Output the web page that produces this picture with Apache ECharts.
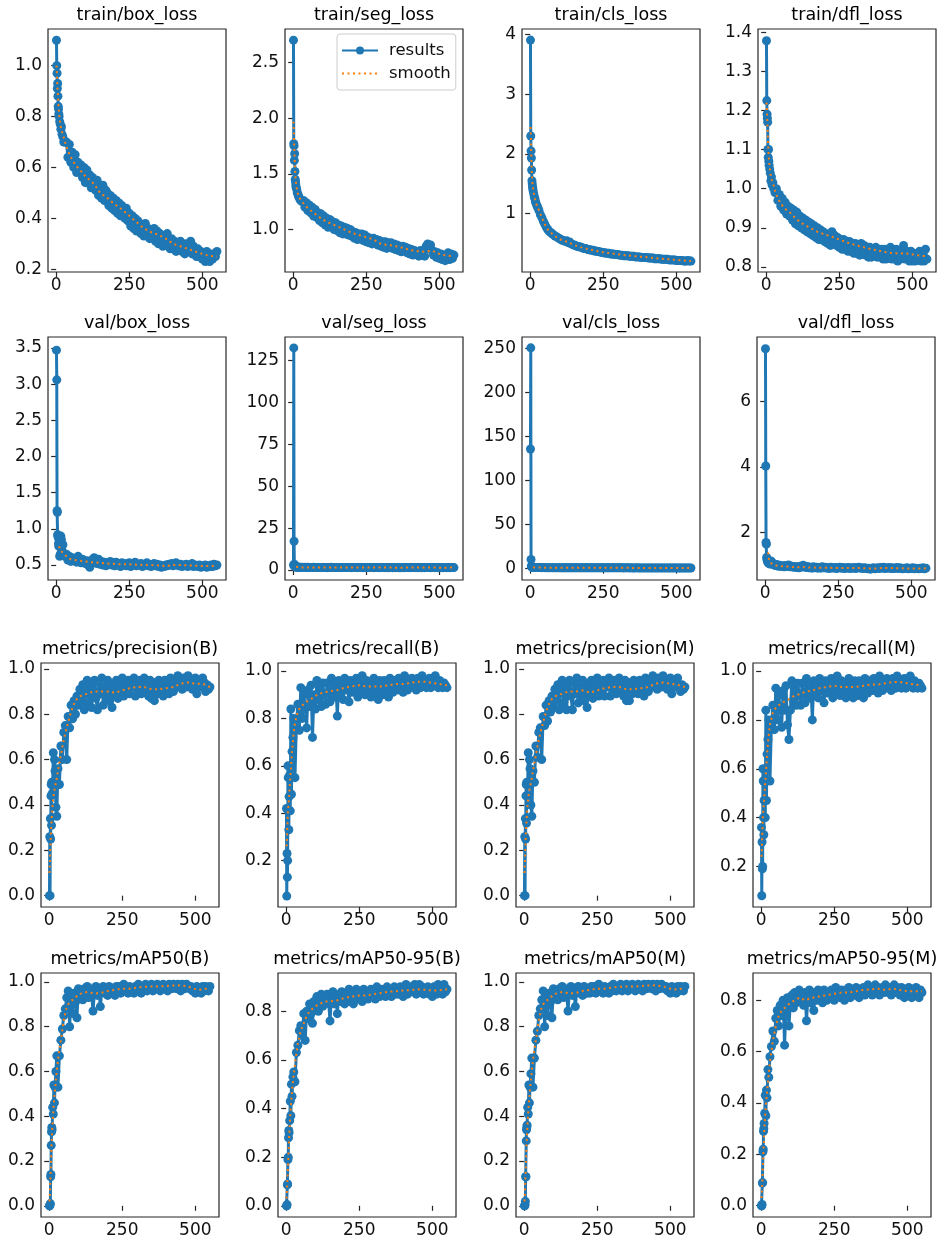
<!DOCTYPE html>
<html>
<head>
<meta charset="utf-8">
<script src="https://cdn.jsdelivr.net/npm/echarts@6/dist/echarts.min.js"></script>
<style>
  html, body { margin: 0; padding: 0; background: #fff; }
  #chart { width: 944px; height: 1244px; }
</style>
</head>
<body>
<div id="chart"></div>
<script>
// epochs sampled for the raw "results" curves
const epochs = [1,2,3,4,5,6,7,8,9,10,12,14,16,18,20,23,26,30,
  35,40,45,50,55,60,65,70,75,80, 85,90,95,100,105,110,115,120,125,130,
  135,140,145,150,155,160,165,170,175,180, 185,190,195,200,205,210,215,220,225,230,
  235,240,245,250,255,260,265,270,275,280, 285,290,295,300,305,310,315,320,325,330,
  335,340,345,350,355,360,365,370,375,380, 385,390,395,400,405,410,415,420,425,430,
  435,440,445,450,455,460,465,470,475,480, 485,490,495,500,505,510,515,520,525,530,
  535,540,545,550];
// epochs sampled for the smoothed curves
const smoothEpochs = [1,2,3,4,5,6,8,10,13,16,20,25,30,40,50,60,70,80,90,100,115,130,150,175,200,
  225,250,275,300,325,350,375,400,425,450,475,500,525,550];

const xTicks = [0, 250, 500];

const trainBoxLoss = [1.10,1.00,0.97,0.91,0.93,0.88,0.84,0.83,0.81,0.80,0.78,0.77,0.75,0.76,0.73,0.72,0.70,0.70,
  0.70,0.64,0.69,0.62,0.66,0.60,0.65,0.58,0.62,0.60, 0.61,0.56,0.60,0.54,0.59,0.55,0.57,0.52,0.56,0.55,
  0.51,0.55,0.49,0.52,0.48,0.53,0.47,0.51,0.50,0.45, 0.49,0.44,0.48,0.43,0.47,0.42,0.46,0.41,0.45,0.43,
  0.40,0.44,0.39,0.42,0.37,0.41,0.36,0.40,0.35,0.39, 0.38,0.34,0.37,0.33,0.38,0.34,0.36,0.32,0.35,0.33,
  0.36,0.31,0.35,0.30,0.34,0.32,0.29,0.33,0.30,0.34, 0.31,0.28,0.32,0.29,0.31,0.27,0.30,0.28,0.31,0.27,
  0.29,0.26,0.30,0.27,0.29,0.31,0.26,0.29,0.27,0.25, 0.28,0.25,0.27,0.24,0.26,0.23,0.27,0.25,0.23,0.26,
  0.24,0.26,0.25,0.27];
const trainBoxSmooth = [1.00,0.98,0.95,0.92,0.90,0.88,0.84,0.81,0.78,0.76,0.74,0.72,0.70,0.665,0.64,0.62,0.605,0.59,0.58,0.565,
  0.55,0.535,0.50,0.48,0.455,0.435,0.41,0.385,0.36,0.345,0.335,0.32,0.30,0.29,0.28,0.27,0.26,0.252,0.25];

const trainSegLoss = [2.70,1.77,1.75,1.62,1.68,1.52,1.45,1.43,1.40,1.38,1.36,1.33,1.32,1.30,1.29,1.27,1.26,1.25,
  1.26,1.20,1.24,1.17,1.22,1.15,1.20,1.12,1.18,1.11, 1.15,1.08,1.14,1.06,1.12,1.04,1.10,1.02,1.09,1.03,
  1.07,1.00,1.06,0.99,1.04,0.97,1.03,0.96,1.02,0.96, 1.01,0.95,1.00,0.94,0.98,0.92,0.97,0.91,0.96,0.92,
  0.96,0.90,0.95,0.89,0.93,0.88,0.92,0.87,0.92,0.88, 0.91,0.86,0.90,0.85,0.89,0.84,0.89,0.83,0.88,0.85,
  0.88,0.83,0.87,0.82,0.86,0.81,0.85,0.80,0.85,0.82, 0.84,0.79,0.83,0.78,0.82,0.77,0.81,0.78,0.80,0.76,
  0.81,0.77,0.80,0.76,0.85,0.87,0.83,0.86,0.81,0.77, 0.80,0.75,0.79,0.74,0.78,0.73,0.77,0.72,0.76,0.79,
  0.73,0.78,0.74,0.77];
const trainSegSmooth = [1.97,1.90,1.80,1.70,1.62,1.55,1.46,1.41,1.36,1.32,1.29,1.27,1.25,1.22,1.19,1.17,1.15,1.13,1.11,1.09,
  1.07,1.05,1.03,1.00,0.97,0.95,0.93,0.91,0.87,0.86,0.85,0.835,0.815,0.805,0.80,0.81,0.78,0.765,0.76];

const trainClsLoss = [3.91,2.30,2.05,1.93,1.73,1.55,1.50,1.45,1.42,1.38,1.33,1.28,1.25,1.20,1.17,1.13,1.10,1.05,
  0.98,0.93,0.87,0.82,0.77,0.73,0.70,0.68,0.66,0.64, 0.62,0.61,0.59,0.58,0.56,0.55,0.54,0.53,0.54,0.51,
  0.52,0.49,0.48,0.47,0.46,0.45,0.44,0.44,0.43,0.42, 0.41,0.41,0.40,0.39,0.39,0.38,0.38,0.37,0.37,0.36,
  0.36,0.35,0.35,0.34,0.34,0.33,0.33,0.33,0.32,0.32, 0.32,0.31,0.31,0.31,0.30,0.30,0.30,0.29,0.29,0.29,
  0.29,0.28,0.28,0.28,0.28,0.27,0.27,0.27,0.27,0.26, 0.26,0.26,0.26,0.26,0.25,0.25,0.25,0.25,0.24,0.24,
  0.24,0.24,0.24,0.23,0.23,0.23,0.23,0.23,0.22,0.22, 0.22,0.22,0.22,0.21,0.21,0.21,0.21,0.21,0.20,0.20,
  0.20,0.21,0.20,0.20];
const trainClsSmooth = [2.45,2.35,2.15,1.95,1.78,1.65,1.50,1.42,1.32,1.25,1.17,1.11,1.05,0.93,0.82,0.73,0.68,0.64,0.60,0.57,
  0.54,0.52,0.47,0.43,0.40,0.37,0.35,0.33,0.315,0.30,0.285,0.275,0.265,0.25,0.24,0.23,0.22,0.21,0.20];

const trainDflLoss = [1.378,1.225,1.19,1.18,1.17,1.10,1.08,1.10,1.07,1.06,1.05,1.04,1.02,1.03,1.01,1.015,1.00,0.99,
  1.00,0.97,0.985,0.955,0.975,0.945,0.965,0.935,0.955,0.93, 0.95,0.92,0.945,0.91,0.94,0.905,0.93,0.90,0.925,0.895,
  0.92,0.89,0.915,0.885,0.91,0.88,0.905,0.875,0.90,0.87, 0.895,0.87,0.89,0.865,0.885,0.86,0.88,0.855,0.89,0.865,
  0.88,0.855,0.875,0.85,0.87,0.845,0.87,0.845,0.865,0.84, 0.865,0.84,0.86,0.835,0.86,0.835,0.855,0.83,0.86,0.835,
  0.855,0.83,0.85,0.825,0.85,0.825,0.845,0.83,0.85,0.825, 0.845,0.825,0.845,0.82,0.845,0.82,0.84,0.825,0.85,0.82,
  0.84,0.82,0.845,0.815,0.84,0.82,0.835,0.855,0.82,0.84, 0.835,0.815,0.84,0.815,0.835,0.815,0.83,0.82,0.84,0.815,
  0.835,0.815,0.845,0.82];
const trainDflSmooth = [1.22,1.21,1.19,1.17,1.15,1.12,1.09,1.07,1.05,1.03,1.02,1.01,0.995,0.975,0.962,0.952,0.945,0.94,0.932,0.925,
  0.915,0.908,0.90,0.89,0.883,0.877,0.87,0.863,0.857,0.852,0.847,0.843,0.839,0.836,0.834,0.835,0.832,0.829,0.827];

const valBoxLoss = [3.47,3.06,1.25,1.23,0.92,0.90,0.88,0.80,0.76,0.78,0.62,0.65,0.90,0.85,0.70,0.78,0.66,0.62,
  0.65,0.57,0.62,0.55,0.60,0.56,0.58,0.54,0.62,0.56, 0.53,0.58,0.55,0.52,0.56,0.50,0.47,0.53,0.58,0.60,
  0.56,0.52,0.58,0.51,0.55,0.50,0.54,0.49,0.53,0.51, 0.55,0.50,0.53,0.49,0.54,0.51,0.52,0.48,0.53,0.50,
  0.52,0.49,0.51,0.53,0.48,0.52,0.50,0.54,0.49,0.51, 0.50,0.52,0.48,0.51,0.50,0.53,0.49,0.51,0.48,0.50,
  0.52,0.49,0.51,0.48,0.50,0.47,0.49,0.48,0.50,0.49, 0.51,0.50,0.52,0.49,0.51,0.53,0.50,0.49,0.51,0.48,
  0.50,0.49,0.51,0.48,0.50,0.49,0.52,0.48,0.50,0.49, 0.48,0.50,0.47,0.49,0.48,0.50,0.47,0.49,0.48,0.50,
  0.48,0.51,0.49,0.50];
// the smoothed val curves are not visible on the first spike, so they start later
const valBoxSmooth = [null,null,null,null,null,null,null,0.76,0.72,0.70,0.68,0.66,0.64,0.60,0.58,0.57,0.565,0.56,0.555,0.55,
  0.54,0.54,0.53,0.52,0.515,0.51,0.51,0.505,0.50,0.50,0.495,0.485,0.50,0.50,0.495,0.49,0.485,0.485,0.49];

const valSegLoss = [3.0,132.6,17.2,3.5,2.6,2.2,2.0,1.9,1.8,1.85,1.7,1.75,1.6,1.7,1.65,1.6,1.55,1.6,
  1.55,1.60,1.50,1.58,1.52,1.48,1.55,1.62,1.50,1.53, 1.48,1.52,1.45,1.50,1.55,1.47,1.42,1.50,1.53,1.58,
  1.50,1.46,1.52,1.44,1.49,1.45,1.51,1.43,1.48,1.46, 1.50,1.44,1.47,1.42,1.49,1.45,1.46,1.41,1.48,1.44,
  1.45,1.42,1.47,1.50,1.43,1.46,1.44,1.49,1.42,1.45, 1.44,1.47,1.41,1.45,1.43,1.48,1.42,1.45,1.40,1.44,
  1.46,1.42,1.45,1.40,1.43,1.39,1.42,1.41,1.44,1.42, 1.45,1.43,1.47,1.42,1.46,1.49,1.44,1.42,1.46,1.41,
  1.44,1.42,1.46,1.41,1.44,1.43,1.48,1.42,1.45,1.43, 1.41,1.44,1.40,1.43,1.42,1.45,1.40,1.43,1.41,1.44,
  1.42,1.46,1.43,1.44];
const valSegSmooth = [null,null,null,null,null,null,null,2.0,1.7,1.65,1.62,1.58,1.57,1.56,1.54,1.53,1.53,1.52,1.50,1.50,
  1.49,1.52,1.48,1.47,1.46,1.45,1.46,1.45,1.45,1.44,1.42,1.42,1.45,1.45,1.44,1.44,1.42,1.42,1.44];

const valClsLoss = [136,251,10.5,3.0,2.0,1.8,1.6,1.5,1.45,1.4,1.35,1.3,1.32,1.28,1.25,1.27,1.22,1.2,
  1.18,1.15,1.17,1.12,1.14,1.10,1.13,1.09,1.11,1.08, 1.10,1.07,1.09,1.05,1.08,1.04,1.06,1.03,1.07,1.05,
  1.03,1.06,1.02,1.04,1.01,1.03,1.00,1.02,0.99,1.01, 1.00,0.98,1.01,0.97,0.99,0.96,0.98,0.95,0.97,0.96,
  0.95,0.97,0.94,0.96,0.93,0.95,0.92,0.94,0.93,0.91, 0.93,0.90,0.92,0.91,0.89,0.92,0.90,0.88,0.91,0.89,
  0.90,0.88,0.89,0.87,0.88,0.86,0.89,0.87,0.86,0.88, 0.86,0.87,0.85,0.88,0.86,0.84,0.87,0.85,0.86,0.84,
  0.85,0.83,0.86,0.84,0.85,0.83,0.84,0.82,0.85,0.83, 0.82,0.84,0.83,0.81,0.83,0.82,0.80,0.83,0.81,0.82,
  0.80,0.82,0.81,0.80];
const valClsSmooth = [null,null,null,null,null,null,null,1.5,1.4,1.3,1.25,1.22,1.2,1.15,1.12,1.1,1.09,1.08,1.07,1.06,
  1.05,1.05,1.03,1.01,0.99,0.97,0.95,0.93,0.91,0.90,0.88,0.87,0.86,0.86,0.84,0.84,0.82,0.82,0.81];

const valDflLoss = [7.6,4.03,1.70,1.65,1.25,1.18,1.20,1.12,1.15,1.08,1.10,1.05,1.12,1.06,1.14,1.04,1.08,1.02,
  1.00,1.03,0.98,1.01,0.97,0.99,0.96,1.00,0.97,1.02, 0.96,0.98,0.95,0.97,0.94,0.96,0.93,0.98,0.95,1.01,
  0.96,0.94,0.97,0.93,0.95,0.92,0.96,0.93,0.95,0.92, 0.94,0.92,0.96,0.93,0.95,0.92,0.94,0.91,0.95,0.93,
  0.92,0.94,0.91,0.93,0.95,0.92,0.94,0.91,0.93,0.92, 0.94,0.91,0.93,0.92,0.94,0.91,0.93,0.95,0.92,0.93,
  0.91,0.93,0.92,0.90,0.92,0.89,0.91,0.93,0.90,0.92, 0.93,0.91,0.94,0.92,0.95,0.91,0.93,0.92,0.94,0.91,
  0.93,0.91,0.92,0.94,0.91,0.93,0.92,0.90,0.92,0.91, 0.93,0.90,0.92,0.91,0.93,0.90,0.92,0.91,0.90,0.92,
  0.91,0.93,0.90,0.92];
const valDflSmooth = [null,null,null,null,null,null,null,1.40,1.20,1.10,1.06,1.04,1.02,0.995,0.98,0.975,0.97,0.97,0.96,0.955,
  0.95,0.955,0.94,0.935,0.93,0.93,0.925,0.925,0.925,0.925,0.91,0.91,0.925,0.925,0.92,0.915,0.91,0.91,0.915];

const precisionB = [0.0,0.26,0.0,0.34,0.25,0.44,0.49,0.31,0.50,0.45,0.50,0.63,0.49,0.60,0.55,0.39,0.35,0.56,
  0.49,0.66,0.60,0.72,0.75,0.60,0.79,0.74,0.84,0.78, 0.86,0.80,0.88,0.84,0.91,0.86,0.93,0.82,0.90,0.95,
  0.85,0.93,0.83,0.91,0.95,0.87,0.82,0.94,0.89,0.96, 0.84,0.92,0.88,0.95,0.86,0.91,0.83,0.93,0.89,0.95,
  0.87,0.94,0.90,0.96,0.88,0.93,0.91,0.95,0.89,0.94, 0.92,0.96,0.88,0.94,0.91,0.95,0.89,0.93,0.96,0.90,
  0.93,0.88,0.95,0.87,0.92,0.86,0.94,0.89,0.95,0.90, 0.93,0.88,0.95,0.91,0.94,0.89,0.96,0.92,0.90,0.95,
  0.92,0.97,0.93,0.95,0.91,0.96,0.94,0.92,0.97,0.93, 0.95,0.91,0.94,0.96,0.89,0.93,0.95,0.92,0.96,0.94,
  0.90,0.93,0.91,0.92];
const precisionBSmooth = [0.10,0.13,0.17,0.21,0.25,0.28,0.33,0.37,0.42,0.45,0.48,0.51,0.55,0.62,0.69,0.74,0.79,0.83,0.86,0.875,
  0.885,0.89,0.90,0.90,0.90,0.895,0.905,0.915,0.92,0.92,0.91,0.91,0.915,0.92,0.935,0.94,0.935,0.935,0.92];

const recallB = [0.42,0.05,0.23,0.13,0.20,0.60,0.55,0.41,0.33,0.47,0.56,0.41,0.84,0.48,0.66,0.72,0.80,0.55,
  0.78,0.86,0.75,0.93,0.80,0.90,0.85,0.76,0.92,0.85, 0.94,0.72,0.90,0.84,0.96,0.88,0.93,0.85,0.95,0.90,
  0.86,0.95,0.91,0.87,0.97,0.92,0.89,0.94,0.81,0.96, 0.90,0.95,0.88,0.97,0.92,0.94,0.87,0.96,0.91,0.95,
  0.93,0.97,0.89,0.95,0.91,0.98,0.93,0.90,0.96,0.92, 0.95,0.89,0.94,0.97,0.91,0.95,0.88,0.96,0.93,0.90,
  0.96,0.92,0.95,0.89,0.97,0.93,0.91,0.96,0.94,0.92, 0.97,0.93,0.95,0.91,0.98,0.94,0.92,0.96,0.93,0.97,
  0.94,0.96,0.92,0.97,0.95,0.93,0.98,0.94,0.96,0.93, 0.95,0.97,0.93,0.96,0.94,0.98,0.95,0.93,0.96,0.94,
  0.93,0.95,0.94,0.93];
const recallBSmooth = [0.26,0.27,0.30,0.34,0.38,0.41,0.44,0.47,0.53,0.58,0.66,0.73,0.78,0.83,0.85,0.86,0.87,0.88,0.885,0.895,
  0.905,0.91,0.915,0.92,0.93,0.935,0.94,0.935,0.935,0.935,0.94,0.945,0.945,0.95,0.955,0.955,0.95,0.945,0.94];

const precisionM = [0.0,0.26,0.0,0.34,0.25,0.44,0.49,0.32,0.50,0.44,0.49,0.63,0.50,0.60,0.56,0.40,0.35,0.55,
  0.50,0.66,0.61,0.72,0.74,0.60,0.79,0.75,0.84,0.77, 0.86,0.81,0.88,0.83,0.91,0.86,0.93,0.82,0.91,0.95,
  0.85,0.93,0.82,0.91,0.95,0.88,0.82,0.94,0.89,0.96, 0.85,0.92,0.87,0.95,0.86,0.91,0.83,0.93,0.90,0.95,
  0.87,0.94,0.89,0.96,0.88,0.93,0.91,0.95,0.88,0.94, 0.92,0.96,0.88,0.94,0.90,0.95,0.89,0.93,0.96,0.91,
  0.93,0.88,0.95,0.86,0.92,0.86,0.94,0.89,0.95,0.90, 0.93,0.89,0.95,0.91,0.94,0.88,0.96,0.92,0.90,0.95,
  0.92,0.97,0.93,0.95,0.91,0.96,0.94,0.92,0.97,0.94, 0.95,0.91,0.94,0.96,0.89,0.93,0.95,0.92,0.96,0.93,
  0.90,0.93,0.91,0.92];
const precisionMSmooth = [0.10,0.13,0.17,0.21,0.25,0.28,0.33,0.37,0.42,0.45,0.48,0.51,0.55,0.62,0.69,0.74,0.79,0.83,0.86,0.875,
  0.885,0.89,0.90,0.90,0.905,0.895,0.905,0.915,0.92,0.92,0.91,0.91,0.915,0.92,0.935,0.94,0.935,0.93,0.92];

const recallM = [0.36,0.08,0.30,0.19,0.20,0.60,0.55,0.40,0.33,0.47,0.55,0.40,0.84,0.47,0.66,0.72,0.80,0.55,
  0.78,0.86,0.76,0.93,0.80,0.90,0.85,0.77,0.92,0.84, 0.94,0.78,0.72,0.84,0.96,0.88,0.93,0.86,0.95,0.90,
  0.86,0.95,0.91,0.87,0.97,0.92,0.89,0.94,0.80,0.96, 0.90,0.95,0.89,0.97,0.92,0.94,0.87,0.96,0.91,0.95,
  0.93,0.97,0.89,0.95,0.91,0.98,0.93,0.90,0.96,0.92, 0.95,0.89,0.94,0.97,0.91,0.95,0.89,0.96,0.93,0.90,
  0.96,0.92,0.95,0.89,0.97,0.93,0.91,0.96,0.94,0.92, 0.97,0.93,0.95,0.91,0.98,0.94,0.92,0.96,0.93,0.97,
  0.94,0.96,0.92,0.97,0.95,0.93,0.98,0.94,0.96,0.93, 0.95,0.97,0.93,0.96,0.94,0.98,0.95,0.93,0.96,0.94,
  0.93,0.95,0.94,0.93];
const recallMSmooth = [0.24,0.26,0.30,0.34,0.38,0.41,0.44,0.47,0.53,0.58,0.66,0.73,0.78,0.83,0.85,0.86,0.87,0.875,0.88,0.89,
  0.90,0.905,0.915,0.92,0.93,0.935,0.94,0.935,0.935,0.935,0.94,0.945,0.945,0.95,0.955,0.955,0.95,0.945,0.94];

const mAP50B = [0.0,0.0,0.005,0.01,0.13,0.14,0.27,0.33,0.35,0.34,0.44,0.41,0.54,0.46,0.53,0.60,0.67,0.53,
  0.67,0.74,0.79,0.85,0.88,0.93,0.96,0.80,0.94,0.86, 0.95,0.91,0.84,0.97,0.93,0.96,0.92,0.97,0.94,0.98,
  0.93,0.97,0.95,0.87,0.96,0.98,0.94,0.97,0.89,0.96, 0.98,0.95,0.97,0.94,0.98,0.96,0.95,0.97,0.94,0.98,
  0.96,0.98,0.95,0.97,0.99,0.96,0.97,0.95,0.98,0.96, 0.97,0.95,0.98,0.96,0.99,0.97,0.95,0.98,0.97,0.99,
  0.96,0.98,0.97,0.99,0.96,0.98,0.97,0.99,0.98,0.96, 0.98,0.99,0.97,0.98,0.96,0.99,0.98,0.97,0.99,0.98,
  0.97,0.99,0.98,0.96,0.99,0.98,0.97,0.99,0.98,0.97, 0.98,0.96,0.97,0.95,0.98,0.96,0.97,0.95,0.98,0.96,
  0.98,0.97,0.96,0.98];
const mAP50BSmooth = [0.02,0.04,0.07,0.11,0.15,0.19,0.27,0.33,0.40,0.46,0.52,0.59,0.65,0.74,0.83,0.89,0.91,0.92,0.93,0.945,
  0.95,0.955,0.95,0.95,0.96,0.965,0.97,0.97,0.975,0.978,0.98,0.98,0.982,0.984,0.985,0.98,0.968,0.965,0.975];

const mAP5095B = [0.0,0.0,0.005,0.086,0.09,0.19,0.20,0.28,0.31,0.30,0.35,0.43,0.37,0.50,0.45,0.53,0.55,0.51,
  0.63,0.66,0.72,0.74,0.70,0.79,0.68,0.80,0.77,0.83, 0.79,0.75,0.84,0.81,0.86,0.80,0.84,0.87,0.82,0.85,
  0.83,0.87,0.84,0.76,0.86,0.88,0.83,0.86,0.79,0.87, 0.84,0.88,0.85,0.83,0.87,0.84,0.89,0.85,0.87,0.83,
  0.86,0.89,0.85,0.88,0.86,0.84,0.89,0.86,0.88,0.85, 0.87,0.89,0.86,0.88,0.85,0.90,0.87,0.86,0.89,0.87,
  0.88,0.86,0.90,0.87,0.89,0.86,0.88,0.90,0.87,0.89, 0.87,0.90,0.88,0.86,0.89,0.91,0.87,0.89,0.88,0.90,
  0.88,0.91,0.87,0.89,0.91,0.88,0.90,0.87,0.89,0.88, 0.90,0.87,0.89,0.86,0.90,0.88,0.87,0.91,0.88,0.90,
  0.87,0.91,0.88,0.89];
const mAP5095BSmooth = [0.03,0.05,0.07,0.10,0.13,0.16,0.22,0.28,0.35,0.41,0.47,0.53,0.58,0.67,0.72,0.75,0.78,0.80,0.81,0.82,
  0.83,0.84,0.84,0.845,0.855,0.86,0.865,0.865,0.87,0.875,0.88,0.882,0.885,0.887,0.89,0.888,0.885,0.886,0.89];

const mAP50M = [0.0,0.0,0.005,0.02,0.13,0.13,0.29,0.34,0.35,0.36,0.44,0.41,0.54,0.46,0.53,0.59,0.66,0.53,
  0.66,0.74,0.78,0.85,0.88,0.92,0.96,0.80,0.94,0.85, 0.95,0.91,0.84,0.97,0.93,0.96,0.92,0.97,0.95,0.98,
  0.93,0.97,0.95,0.87,0.96,0.98,0.94,0.97,0.89,0.96, 0.98,0.95,0.97,0.94,0.98,0.96,0.95,0.97,0.95,0.98,
  0.96,0.98,0.95,0.97,0.99,0.96,0.97,0.95,0.98,0.96, 0.97,0.95,0.98,0.96,0.99,0.97,0.96,0.98,0.97,0.99,
  0.96,0.98,0.97,0.99,0.96,0.98,0.97,0.99,0.98,0.96, 0.98,0.99,0.97,0.98,0.96,0.99,0.98,0.97,0.99,0.98,
  0.97,0.99,0.98,0.96,0.99,0.98,0.97,0.99,0.98,0.97, 0.98,0.96,0.97,0.95,0.98,0.96,0.97,0.95,0.98,0.96,
  0.98,0.97,0.96,0.98];
const mAP50MSmooth = [0.02,0.04,0.07,0.11,0.15,0.19,0.27,0.33,0.40,0.46,0.52,0.59,0.65,0.74,0.83,0.89,0.91,0.92,0.93,0.945,
  0.95,0.955,0.95,0.95,0.96,0.965,0.97,0.97,0.975,0.978,0.98,0.98,0.982,0.984,0.985,0.98,0.97,0.965,0.975];

const mAP5095M = [0.0,0.0,0.005,0.088,0.09,0.21,0.22,0.29,0.30,0.32,0.36,0.43,0.35,0.45,0.42,0.53,0.50,0.58,
  0.62,0.68,0.64,0.73,0.76,0.70,0.78,0.74,0.80,0.625, 0.77,0.81,0.70,0.79,0.82,0.77,0.83,0.79,0.81,0.84,
  0.80,0.82,0.78,0.83,0.72,0.81,0.84,0.79,0.82,0.76, 0.83,0.80,0.84,0.81,0.83,0.79,0.84,0.82,0.80,0.83,
  0.81,0.84,0.82,0.80,0.85,0.82,0.83,0.81,0.84,0.82, 0.80,0.84,0.82,0.85,0.81,0.83,0.84,0.82,0.85,0.83,
  0.81,0.84,0.83,0.85,0.82,0.84,0.86,0.83,0.85,0.82, 0.84,0.86,0.83,0.85,0.82,0.84,0.85,0.83,0.86,0.84,
  0.83,0.85,0.82,0.84,0.86,0.83,0.85,0.84,0.82,0.85, 0.83,0.81,0.84,0.82,0.85,0.83,0.81,0.84,0.82,0.85,
  0.83,0.81,0.84,0.83];
const mAP5095MSmooth = [0.03,0.05,0.07,0.10,0.13,0.16,0.22,0.28,0.34,0.39,0.44,0.50,0.56,0.64,0.70,0.74,0.76,0.77,0.78,0.79,
  0.80,0.81,0.80,0.81,0.815,0.82,0.825,0.83,0.83,0.835,0.84,0.842,0.845,0.84,0.845,0.84,0.835,0.835,0.835];

// y tick values for each panel
const ticksTrainBox = [0.2, 0.4, 0.6, 0.8, 1.0];
const ticksTrainSeg = [1.0, 1.5, 2.0, 2.5];
const ticksTrainCls = [1, 2, 3, 4];
const ticksTrainDfl = [0.8, 0.9, 1.0, 1.1, 1.2, 1.3, 1.4];
const ticksValBox = [0.5, 1.0, 1.5, 2.0, 2.5, 3.0, 3.5];
const ticksValSeg = [0, 25, 50, 75, 100, 125];
const ticksValCls = [0, 50, 100, 150, 200, 250];
const ticksValDfl = [2, 4, 6];
const ticksUnit = [0.0, 0.2, 0.4, 0.6, 0.8, 1.0];
const ticksRecall = [0.2, 0.4, 0.6, 0.8, 1.0];
const ticksMap5095 = [0.0, 0.2, 0.4, 0.6, 0.8];

const panels = [
  { title: 'train/box_loss', values: trainBoxLoss, smooth: trainBoxSmooth, yMin: 0.189, yMax: 1.144, ticks: ticksTrainBox, digits: 1 },
  { title: 'train/seg_loss', values: trainSegLoss, smooth: trainSegSmooth, yMin: 0.618, yMax: 2.80, ticks: ticksTrainSeg, digits: 1 },
  { title: 'train/cls_loss', values: trainClsLoss, smooth: trainClsSmooth, yMin: 0.017, yMax: 4.096, ticks: ticksTrainCls, digits: 0 },
  { title: 'train/dfl_loss', values: trainDflLoss, smooth: trainDflSmooth, yMin: 0.787, yMax: 1.408, ticks: ticksTrainDfl, digits: 1 },
  { title: 'val/box_loss', values: valBoxLoss, smooth: valBoxSmooth, yMin: 0.293, yMax: 3.652, ticks: ticksValBox, digits: 1 },
  { title: 'val/seg_loss', values: valSegLoss, smooth: valSegSmooth, yMin: -5.96, yMax: 139.1, ticks: ticksValSeg, digits: 0 },
  { title: 'val/cls_loss', values: valClsLoss, smooth: valClsSmooth, yMin: -12.9, yMax: 263.3, ticks: ticksValCls, digits: 0 },
  { title: 'val/dfl_loss', values: valDflLoss, smooth: valDflSmooth, yMin: 0.56, yMax: 7.957, ticks: ticksValDfl, digits: 0 },
  { title: 'metrics/precision(B)', values: precisionB, smooth: precisionBSmooth, yMin: -0.05, yMax: 1.026, ticks: ticksUnit, digits: 1 },
  { title: 'metrics/recall(B)', values: recallB, smooth: recallBSmooth, yMin: 0.004, yMax: 1.034, ticks: ticksRecall, digits: 1 },
  { title: 'metrics/precision(M)', values: precisionM, smooth: precisionMSmooth, yMin: -0.05, yMax: 1.026, ticks: ticksUnit, digits: 1 },
  { title: 'metrics/recall(M)', values: recallM, smooth: recallMSmooth, yMin: 0.034, yMax: 1.033, ticks: ticksRecall, digits: 1 },
  { title: 'metrics/mAP50(B)', values: mAP50B, smooth: mAP50BSmooth, yMin: -0.05, yMax: 1.04, ticks: ticksUnit, digits: 1 },
  { title: 'metrics/mAP50-95(B)', values: mAP5095B, smooth: mAP5095BSmooth, yMin: -0.046, yMax: 0.957, ticks: ticksMap5095, digits: 1 },
  { title: 'metrics/mAP50(M)', values: mAP50M, smooth: mAP50MSmooth, yMin: -0.05, yMax: 1.04, ticks: ticksUnit, digits: 1 },
  { title: 'metrics/mAP50-95(M)', values: mAP5095M, smooth: mAP5095MSmooth, yMin: -0.044, yMax: 0.906, ticks: ticksMap5095, digits: 1 }
];

const FONT = '"DejaVu Sans", sans-serif';
const BLUE = '#1f77b4';
const ORANGE = '#ff7f0e';
const INK = '#262626';

const rowTop = [29, 337, 663, 973];
const rowHeight = [243, 243, 244, 244];
const colLeft = [[48, 285, 522, 758], [48, 285, 522, 757], [41, 278, 516, 753], [41, 278, 516, 753]];
const boxWidth = 178;

const chart = echarts.init(document.getElementById('chart'));

const grid = [], xAxis = [], yAxis = [], series = [], graphic = [];
panels.forEach((p, i) => {
  const r = Math.floor(i / 4), c = i % 4;
  const left = colLeft[r][c], top = rowTop[r];
  grid.push({ left: left, top: top, width: boxWidth, height: rowHeight[r], show: true,
    borderColor: INK, borderWidth: 1.2, backgroundColor: '#fff' });
  xAxis.push({
    type: 'value', gridIndex: i, min: -28, max: 581,
    axisLine: { show: false }, splitLine: { show: false },
    axisTick: { show: true, customValues: xTicks, length: 5, lineStyle: { color: INK, width: 1.2 } },
    axisLabel: { customValues: xTicks, margin: 5, fontSize: 17, fontFamily: FONT, color: '#111' }
  });
  yAxis.push({
    type: 'value', gridIndex: i, min: p.yMin, max: p.yMax,
    axisLine: { show: false }, splitLine: { show: false },
    axisTick: { show: true, customValues: p.ticks, length: 5, lineStyle: { color: INK, width: 1.2 } },
    axisLabel: { customValues: p.ticks, margin: 6, fontSize: 17, fontFamily: FONT, color: '#111',
      formatter: v => Number(v).toFixed(p.digits) }
  });
  series.push({
    name: 'results', type: 'line', xAxisIndex: i, yAxisIndex: i,
    data: epochs.map((e, k) => [e, p.values[k]]),
    symbol: 'circle', symbolSize: 9, showSymbol: true, showAllSymbol: true,
    lineStyle: { color: BLUE, width: 3 }, itemStyle: { color: BLUE },
    emphasis: { disabled: true }, z: 2
  });
  series.push({
    name: 'smooth', type: 'line', xAxisIndex: i, yAxisIndex: i,
    data: smoothEpochs.map((e, k) => [e, p.smooth[k]]),
    symbol: 'none', connectNulls: false,
    lineStyle: { color: ORANGE, width: 2, type: [2, 3.5] }, itemStyle: { color: ORANGE },
    emphasis: { disabled: true }, z: 3
  });
  graphic.push({
    type: 'text', x: left + boxWidth / 2, y: top - 14, z: 10,
    style: { text: p.title, font: '17.5px ' + FONT, fill: '#000', align: 'center', verticalAlign: 'middle' }
  });
});

chart.setOption({
  animation: false,
  backgroundColor: '#fff',
  grid: grid,
  xAxis: xAxis,
  yAxis: yAxis,
  series: series,
  graphic: graphic,
  legend: {
    data: [
      { name: 'results' },
      { name: 'smooth', itemStyle: { opacity: 0 } }
    ],
    orient: 'vertical', left: 337, top: 34,
    padding: [8, 5, 8, 4], itemWidth: 36, itemHeight: 10, itemGap: 6,
    selectedMode: false,
    textStyle: { fontSize: 16.5, fontFamily: FONT, color: '#111', padding: [0, 0, 0, 6] },
    borderColor: '#cccccc', borderWidth: 1, borderRadius: 3,
    backgroundColor: 'rgba(255,255,255,0.8)'
  }
});
</script>
</body>
</html>
